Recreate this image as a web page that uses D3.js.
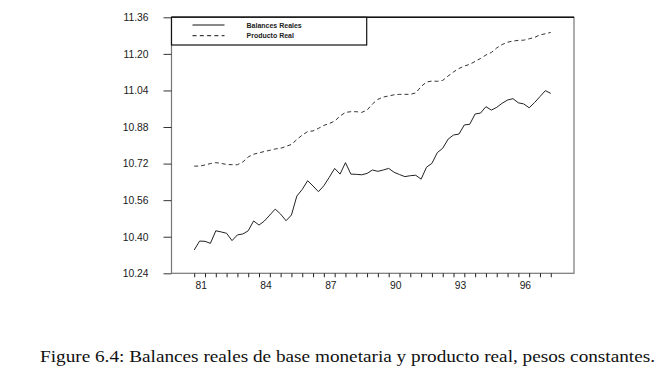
<!DOCTYPE html>
<html>
<head>
<meta charset="utf-8">
<script src="https://cdn.jsdelivr.net/npm/d3@7"></script>
<style>
  html, body { margin: 0; padding: 0; background: #fff; }
  svg { display: block; }
</style>
</head>
<body>
<svg width="671" height="377"></svg>
<script>
// quarterly series, first point 1981 Q1
const startYear = 1981
const balances = [10.342, 10.381, 10.380, 10.371, 10.426, 10.421, 10.415, 10.383, 10.408, 10.412,
  10.426, 10.469, 10.451, 10.469, 10.495, 10.521, 10.499, 10.470, 10.495, 10.578,
  10.607, 10.645, 10.622, 10.597, 10.623, 10.660, 10.699, 10.674, 10.724, 10.674,
  10.673, 10.671, 10.677, 10.692, 10.686, 10.692, 10.699, 10.682, 10.672, 10.663,
  10.667, 10.669, 10.652, 10.704, 10.721, 10.768, 10.787, 10.827, 10.845, 10.849,
  10.889, 10.892, 10.937, 10.941, 10.969, 10.954, 10.966, 10.984, 10.998, 11.004,
  10.986, 10.981, 10.964, 10.987, 11.013, 11.039, 11.027]
const producto = [10.709, 10.709, 10.714, 10.720, 10.724, 10.721, 10.716, 10.715, 10.715, 10.727,
  10.749, 10.761, 10.767, 10.773, 10.778, 10.784, 10.787, 10.795, 10.804, 10.825,
  10.845, 10.860, 10.863, 10.874, 10.887, 10.895, 10.906, 10.928, 10.944, 10.947,
  10.947, 10.944, 10.954, 10.981, 11.001, 11.011, 11.016, 11.021, 11.023, 11.023,
  11.023, 11.029, 11.057, 11.077, 11.081, 11.080, 11.084, 11.103, 11.121, 11.136,
  11.147, 11.154, 11.167, 11.180, 11.195, 11.206, 11.226, 11.241, 11.251, 11.256,
  11.259, 11.260, 11.266, 11.272, 11.283, 11.288, 11.294]
const yTicks = [10.24, 10.40, 10.56, 10.72, 10.88, 11.04, 11.20, 11.36]
const xLabels = ["81", "84", "87", "90", "93", "96"]
const legendNames = ["Balances Reales", "Producto Real"]

const width = 671, height = 377
const plot = {left: 171.5, right: 574, top: 17.3, bottom: 273.3}

const svg = d3.select("svg").attr("viewBox", [0, 0, width, height])

// quarter index scale (0 = 81Q1)
const x = d3.scaleLinear().domain([-4.2, 70.3]).range([plot.left, plot.right])
const y = d3.scaleLinear().domain([10.24, 11.36]).range([plot.bottom, plot.top])

const tickFont = "'Liberation Sans Narrow', 'Arial Narrow', 'Liberation Sans', sans-serif"

// frame
svg.append("rect")
  .attr("x", plot.left).attr("y", plot.top)
  .attr("width", plot.right - plot.left).attr("height", plot.bottom - plot.top)
  .attr("fill", "none").attr("stroke", "#777").attr("stroke-width", 1.2)
svg.append("line")
  .attr("x1", plot.left).attr("x2", plot.right)
  .attr("y1", plot.top).attr("y2", plot.top)
  .attr("stroke", "#111").attr("stroke-width", 1.4)

// y axis
const yAxis = d3.axisLeft(y).tickValues(yTicks).tickFormat(d3.format(".2f"))
  .tickSize(8).tickPadding(15).tickSizeOuter(0)
svg.append("g")
  .attr("transform", `translate(${plot.left},0)`)
  .call(yAxis)
  .call(g => g.select(".domain").remove())
  .call(g => g.selectAll(".tick line").attr("stroke", "#333"))
  .call(g => g.selectAll(".tick text")
    .attr("font-family", tickFont).attr("font-size", 10.3).attr("fill", "#1a1a1a"))

// x axis: ticks every half year, labels every 3 years
const halfYears = d3.range(0, balances.length, 2)
const xAxis = d3.axisBottom(x).tickValues(halfYears).tickFormat("")
  .tickSize(4).tickSizeOuter(0)
svg.append("g")
  .attr("transform", `translate(0,${plot.bottom})`)
  .call(xAxis)
  .call(g => g.select(".domain").remove())
  .call(g => g.selectAll(".tick line").attr("stroke", "#222"))

svg.append("g")
  .selectAll("text")
  .data(xLabels)
  .join("text")
  .attr("x", d => x((+d + 1900 - startYear) * 4 + 1.3))
  .attr("y", plot.bottom + 15.5)
  .attr("text-anchor", "middle")
  .attr("font-family", tickFont).attr("font-size", 10.3).attr("fill", "#1a1a1a")
  .text(d => d)

// lines
const line = d3.line().x((d, i) => x(i)).y(d => y(d))
svg.append("path")
  .datum(producto)
  .attr("d", line)
  .attr("fill", "none").attr("stroke", "#333").attr("stroke-width", 1)
  .attr("stroke-dasharray", "4,3")
svg.append("path")
  .datum(balances)
  .attr("d", line)
  .attr("fill", "none").attr("stroke", "#222").attr("stroke-width", 1)

// legend
const legend = svg.append("g")
legend.append("rect")
  .attr("x", plot.left).attr("y", plot.top)
  .attr("width", 366.7 - plot.left).attr("height", 45 - plot.top)
  .attr("fill", "#fff").attr("stroke", "#111").attr("stroke-width", 1.2)
legendNames.forEach((name, i) => {
  const ly = 25 + i * 10.7
  legend.append("line")
    .attr("x1", 192.5).attr("x2", 224.5).attr("y1", ly).attr("y2", ly)
    .attr("stroke", "#111").attr("stroke-width", 1)
    .attr("stroke-dasharray", i === 1 ? "4,3.3" : null)
  legend.append("text")
    .attr("x", 246.5).attr("y", ly + 2.5)
    .attr("font-family", "'Liberation Sans', Arial, sans-serif")
    .attr("font-size", 7).attr("font-weight", "bold").attr("fill", "#222")
    .text(name)
})

// caption
svg.append("text")
  .attr("x", 40).attr("y", 362)
  .attr("textLength", 615).attr("lengthAdjust", "spacingAndGlyphs")
  .attr("font-family", "'Liberation Serif', 'DejaVu Serif', serif")
  .attr("font-size", 16).attr("fill", "#111")
  .text("Figure 6.4: Balances reales de base monetaria y producto real, pesos constantes.")
</script>
</body>
</html>
